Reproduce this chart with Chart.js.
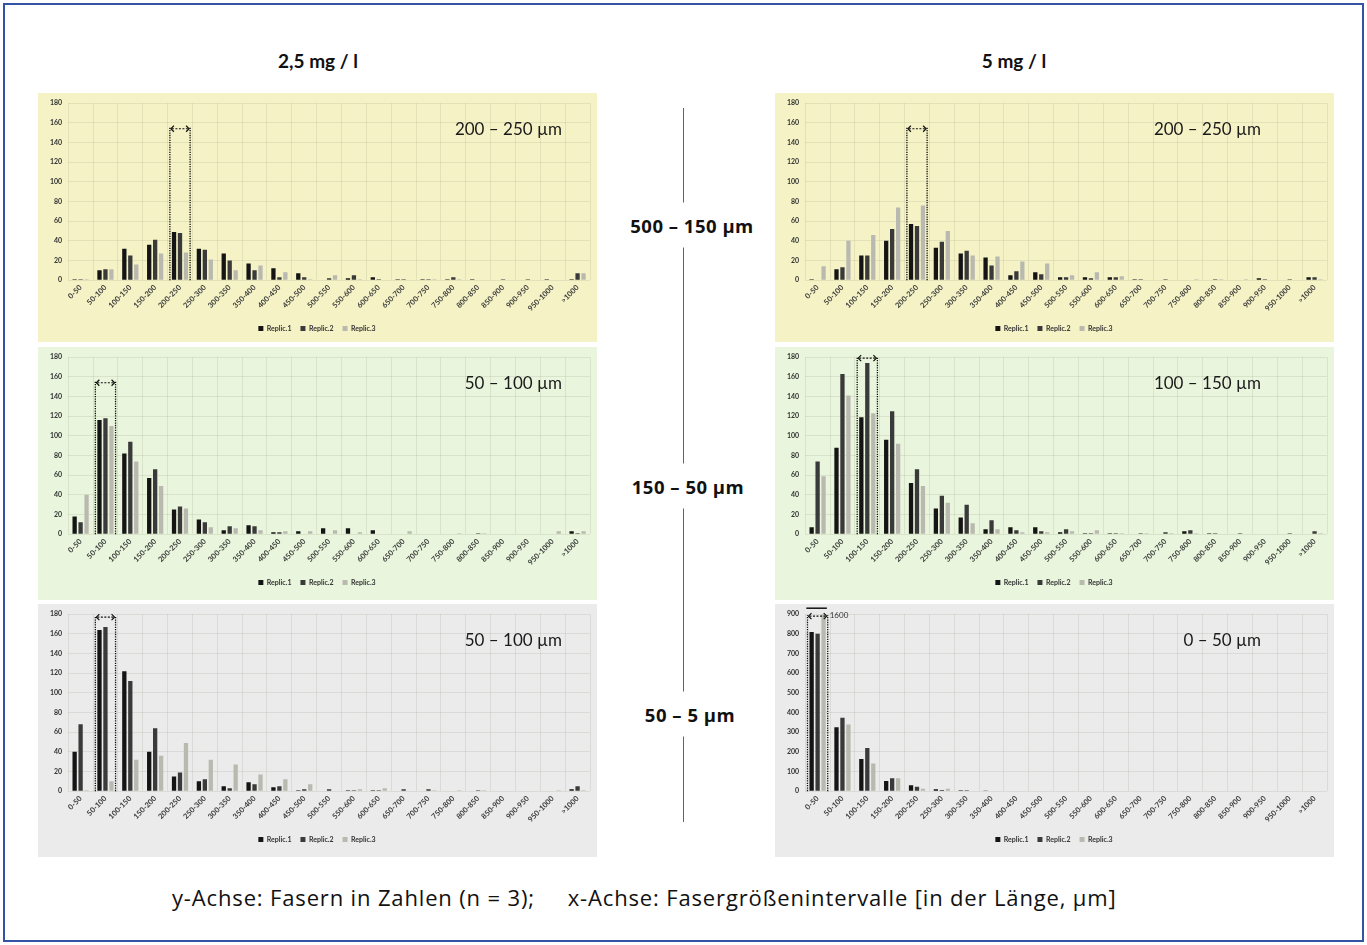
<!DOCTYPE html>
<html>
<head>
<meta charset="utf-8">
<script src="https://cdn.jsdelivr.net/npm/chart.js@4.4.1/dist/chart.umd.min.js"></script>
<style>
  body { margin: 0; width: 1367px; height: 945px; background: #fff; position: relative; overflow: hidden; font-family: Lato, "Open Sans", sans-serif; color: #111; }
  .frame { position: absolute; left: 3px; top: 3px; width: 1357px; height: 935px; border: 2px solid #3553a5; }
  .panel { position: absolute; }
  .panel canvas { position: absolute; left: 0; top: 0; }
  .title { position: absolute; top: 49px; font-weight: bold; font-size: 19px; transform: translateX(-50%); white-space: nowrap; }
  .vline { position: absolute; left: 683px; top: 108px; width: 1px; height: 714px; background: #3f60c8; }
  .mid { position: absolute; font-family: "Open Sans", sans-serif; font-weight: bold; font-size: 18.5px; letter-spacing: 0.5px; background: #fff; padding: 10px 0; transform: translate(-50%, -50%); white-space: nowrap; }
  .caption { position: absolute; left: 172px; top: 882px; font-family: "Open Sans", sans-serif; font-size: 22px; letter-spacing: 0.85px; white-space: pre; }
</style>
</head>
<body>
<div class="frame"></div>
<div class="title" style="left:318px">2,5 mg / l</div>
<div class="title" style="left:1014px">5 mg / l</div>
<div class="vline"></div>
<div class="mid" style="left:692px;top:225px">500 – 150 µm</div>
<div class="mid" style="left:688px;top:486px">150 – 50 µm</div>
<div class="mid" style="left:690px;top:714px">50 – 5 µm</div>
<div class="caption">y-Achse: Fasern in Zahlen (n = 3);     x-Achse: Fasergrößenintervalle [in der Länge, µm]</div>

<div class="panel" style="left:38px;top:93px;width:559px;height:249px;background:#f5f3c6"><canvas id="c1" width="559" height="249"></canvas></div>
<div class="panel" style="left:775px;top:93px;width:559px;height:249px;background:#f5f3c6"><canvas id="c2" width="559" height="249"></canvas></div>
<div class="panel" style="left:38px;top:347px;width:559px;height:253px;background:#e9f5dc"><canvas id="c3" width="559" height="253"></canvas></div>
<div class="panel" style="left:775px;top:347px;width:559px;height:253px;background:#e9f5dc"><canvas id="c4" width="559" height="253"></canvas></div>
<div class="panel" style="left:38px;top:604px;width:559px;height:253px;background:#ebebeb"><canvas id="c5" width="559" height="253"></canvas></div>
<div class="panel" style="left:775px;top:604px;width:559px;height:253px;background:#ebebeb"><canvas id="c6" width="559" height="253"></canvas></div>

<script>
// fibre length bins (x axis)
const sizeBins = ["0-50", "50-100", "100-150", "150-200", "200-250", "250-300", "300-350", "350-400",
  "400-450", "450-500", "500-550", "550-600", "600-650", "650-700", "700-750", "750-800",
  "800-850", "850-900", "900-950", "950-1000", ">1000"];
const replicNames = ["Replic.1", "Replic.2", "Replic.3"];

// 2,5 mg/l, 500-150 µm fraction
const low_large_r1 = [1, 10, 32, 36, 49, 32, 27, 17, 12, 7, 0, 2, 3, 1, 1, 1, 1, 0, 0, 1, 1];
const low_large_r2 = [1, 11, 25, 41, 48, 31, 20, 10, 3, 3, 2, 5, 1, 1, 1, 3, 0, 1, 1, 0, 7];
const low_large_r3 = [1, 11, 16, 27, 28, 21, 10, 15, 8, 1, 5, 1, 0, 0, 1, 1, 0, 0, 0, 0, 7];
// 5 mg/l, 500-150 µm fraction
const high_large_r1 = [1, 11, 25, 40, 57, 33, 27, 23, 5, 8, 3, 3, 3, 1, 0, 0, 0, 0, 2, 0, 3];
const high_large_r2 = [0, 13, 25, 52, 55, 39, 30, 15, 9, 6, 3, 2, 3, 1, 1, 0, 1, 0, 1, 1, 3];
const high_large_r3 = [14, 40, 46, 74, 76, 50, 25, 24, 19, 17, 5, 8, 4, 0, 0, 1, 1, 1, 0, 0, 1];
// 2,5 mg/l, 150-50 µm fraction
const low_mid_r1 = [18, 116, 82, 57, 25, 15, 4, 9, 2, 3, 6, 6, 4, 0, 0, 0, 0, 0, 0, 0, 3];
const low_mid_r2 = [12, 118, 94, 66, 28, 12, 8, 8, 2, 0, 0, 0, 0, 0, 0, 0, 1, 0, 0, 0, 1];
const low_mid_r3 = [40, 110, 74, 49, 26, 7, 6, 4, 3, 3, 4, 2, 0, 3, 0, 1, 1, 0, 0, 3, 3];
// 5 mg/l, 150-50 µm fraction
const high_mid_r1 = [7, 88, 119, 96, 52, 26, 17, 5, 7, 7, 2, 1, 1, 0, 0, 3, 1, 0, 0, 0, 0];
const high_mid_r2 = [74, 163, 174, 125, 66, 39, 30, 14, 4, 3, 5, 1, 1, 1, 2, 4, 1, 1, 0, 1, 3];
const high_mid_r3 = [59, 141, 123, 92, 49, 32, 11, 5, 2, 2, 3, 4, 1, 1, 1, 1, 0, 0, 0, 0, 1];
// 2,5 mg/l, 50-5 µm fraction
const low_small_r1 = [40, 164, 122, 40, 15, 10, 5, 9, 4, 1, 0, 1, 1, 0, 0, 0, 0, 0, 0, 0, 2];
const low_small_r2 = [68, 167, 112, 64, 19, 12, 3, 7, 5, 2, 2, 1, 1, 2, 2, 0, 1, 0, 0, 0, 5];
const low_small_r3 = [1, 10, 32, 36, 49, 32, 27, 17, 12, 7, 0, 2, 3, 0, 1, 1, 1, 0, 0, 1, 1];
// 5 mg/l, 50-5 µm fraction
const high_small_r1 = [810, 325, 164, 51, 30, 9, 5, 3, 0, 0, 0, 0, 0, 0, 0, 0, 0, 0, 0, 0, 0];
const high_small_r2 = [800, 373, 220, 65, 22, 6, 5, 0, 0, 2, 0, 0, 0, 0, 0, 0, 0, 0, 0, 0, 0];
const high_small_r3 = [1600, 339, 140, 65, 12, 12, 2, 0, 0, 0, 0, 0, 0, 0, 0, 0, 0, 0, 0, 0, 0];

// y-axis ranges and the marked size class per panel
const yMaxima = [180, 180, 180, 180, 180, 900];
const yStepSizes = [20, 20, 20, 20, 20, 100];
const panelTexts = ["200 – 250 µm", "200 – 250 µm", "50 – 100 µm", "100 – 150 µm", "50 – 100 µm", "0 – 50 µm"];
const markedBins = ["200-250", "200-250", "50-100", "100-150", "50-100", "0-50"];
const markHeights = [155, 155, 155, 180, 178, 895];

const panelSeries = [
  [low_large_r1, low_large_r2, low_large_r3],
  [high_large_r1, high_large_r2, high_large_r3],
  [low_mid_r1, low_mid_r2, low_mid_r3],
  [high_mid_r1, high_mid_r2, high_mid_r3],
  [low_small_r1, low_small_r2, low_small_r3],
  [high_small_r1, high_small_r2, high_small_r3]
];

const replicColors = ["#141414", "#3a3a3a", "#b9b9b0"];

// dotted bracket, arrow, size text and clipped-bar note
const markPlugin = {
  id: "marks",
  afterDatasetsDraw(chart, args, opts) {
    const ctx = chart.ctx;
    const area = chart.chartArea;
    const y = chart.scales.y;
    const i = chart.data.labels.indexOf(opts.bin);
    const first = chart.getDatasetMeta(0).data[i];
    const last = chart.getDatasetMeta(2).data[i];
    const left = first.x - first.width / 2 - 2;
    const right = last.x + last.width / 2 + 2;
    const top = Math.max(y.getPixelForValue(opts.top), area.top);
    const base = y.getPixelForValue(0);

    ctx.save();
    ctx.strokeStyle = "#111";
    ctx.lineWidth = 1.3;
    ctx.setLineDash([1.3, 1.1]);
    ctx.beginPath();
    ctx.moveTo(left, base); ctx.lineTo(left, top);
    ctx.moveTo(right, base); ctx.lineTo(right, top);
    ctx.stroke();

    // <--> arrow
    ctx.lineWidth = 1.2;
    ctx.setLineDash([2, 1.5]);
    ctx.beginPath();
    ctx.moveTo(left + 2, top + 1); ctx.lineTo(right - 2, top + 1);
    ctx.stroke();
    ctx.setLineDash([]);
    ctx.beginPath();
    ctx.moveTo(left + 4, top - 2); ctx.lineTo(left + 1, top + 1); ctx.lineTo(left + 4, top + 4);
    ctx.moveTo(right - 4, top - 2); ctx.lineTo(right - 1, top + 1); ctx.lineTo(right - 4, top + 4);
    ctx.stroke();

    // bars that go beyond the axis
    chart.data.datasets.forEach((ds, d) => {
      ds.data.forEach((v, k) => {
        if (v > y.max) {
          ctx.strokeStyle = "#111";
          ctx.lineWidth = 1.5;
          ctx.beginPath();
          ctx.moveTo(first.x - first.width - 1, area.top - 6);
          ctx.lineTo(last.x + last.width - 1, area.top - 6);
          ctx.stroke();
          ctx.fillStyle = "#333";
          ctx.font = "8px Lato";
          ctx.textAlign = "left";
          ctx.textBaseline = "middle";
          ctx.fillText(String(v), right + 2, area.top + 1);
        }
      });
    });

    ctx.fillStyle = "#1a1a1a";
    ctx.font = "17px Lato";
    ctx.textAlign = "right";
    ctx.textBaseline = "middle";
    ctx.fillText(opts.text, area.right - opts.textInset, area.top + 26);
    ctx.restore();
  }
};

const charts = [];
panelSeries.forEach((series, p) => {
  const canvas = document.getElementById("c" + (p + 1));
  charts.push(new Chart(canvas, {
    type: "bar",
    data: {
      labels: sizeBins,
      datasets: series.map((vals, r) => ({
        label: replicNames[r],
        data: vals,
        backgroundColor: replicColors[r],
        categoryPercentage: 0.72,
        barPercentage: 0.72
      }))
    },
    options: {
      responsive: false,
      animation: false,
      devicePixelRatio: 1,
      layout: { padding: { left: 6, right: 7, top: 6, bottom: canvas.height - 249 } },
      scales: {
        x: {
          grid: { color: "rgba(120,120,90,0.14)", drawTicks: false },
          border: { display: false },
          ticks: { font: { family: "Lato", size: 7.5, weight: "bold" }, color: "#3a3a3a", minRotation: 45, maxRotation: 45, autoSkip: false, padding: 3 }
        },
        y: {
          min: 0,
          max: yMaxima[p],
          grid: { color: "rgba(120,120,90,0.14)", drawTicks: false },
          border: { display: false },
          ticks: { stepSize: yStepSizes[p], font: { family: "Lato", size: 7, weight: "bold" }, color: "#333", padding: 6 }
        }
      },
      plugins: {
        legend: {
          position: "bottom",
          labels: { boxWidth: 5, boxHeight: 5, padding: 9, font: { family: "Lato", size: 7, weight: "bold" }, color: "#333" }
        },
        tooltip: { enabled: false },
        marks: { bin: markedBins[p], top: markHeights[p], text: panelTexts[p], textInset: p % 2 === 0 ? 28 : 66 }
      }
    },
    plugins: [markPlugin]
  }));
});
</script>
</body>
</html>
